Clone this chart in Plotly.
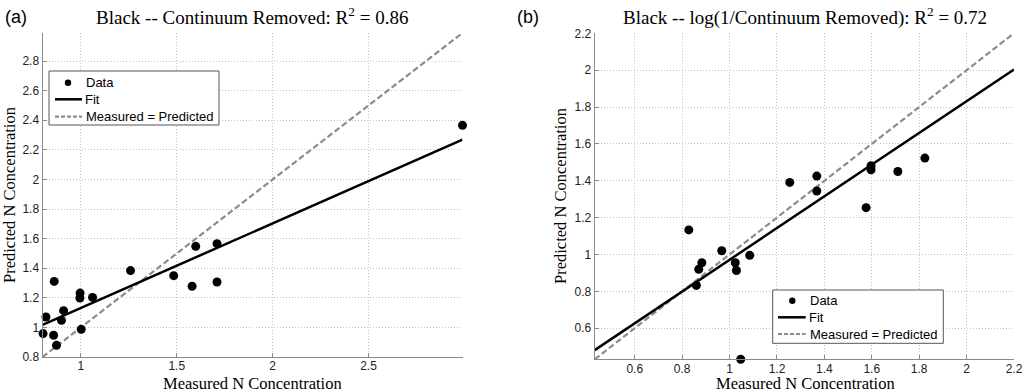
import plotly.graph_objects as go

# ---- Panel (a) data ----
a_measured = [0.803, 0.818, 0.858, 0.861, 0.873, 0.899, 0.910, 0.996, 0.995, 1.002,
              1.061, 1.259, 1.484, 1.580, 1.599, 1.710, 1.710, 2.990]
a_predicted = [0.958, 1.070, 0.947, 1.311, 0.879, 1.048, 1.113, 1.232, 1.199, 0.987,
               1.203, 1.384, 1.350, 1.278, 1.548, 1.566, 1.307, 2.366]
a_fit_x = [0.80, 2.99]
a_fit_y = [1.017, 2.269]
a_one_x = [0.80, 3.00]
a_one_y = [0.80, 3.00]
a_xticks = [1, 1.5, 2, 2.5]
a_xticklabels = ["1", "1.5", "2", "2.5"]
a_yticks = [0.8, 1.0, 1.2, 1.4, 1.6, 1.8, 2.0, 2.2, 2.4, 2.6, 2.8]
a_yticklabels = ["0.8", "1", "1.2", "1.4", "1.6", "1.8", "2", "2.2", "2.4", "2.6", "2.8"]

# ---- Panel (b) data ----
b_measured = [0.828, 0.860, 0.870, 0.883, 0.967, 1.024, 1.029, 1.085, 1.047,
              1.254, 1.368, 1.368, 1.576, 1.597, 1.597, 1.710, 1.824]
b_predicted = [1.133, 0.832, 0.919, 0.955, 1.020, 0.955, 0.913, 0.995, 0.431,
               1.391, 1.425, 1.344, 1.254, 1.481, 1.459, 1.450, 1.523]
b_fit_x = [0.431, 2.20]
b_fit_y = [0.481, 2.004]
b_one_x = [0.431, 2.20]
b_one_y = [0.431, 2.20]
b_ticks = [0.6, 0.8, 1.0, 1.2, 1.4, 1.6, 1.8, 2.0, 2.2]
b_ticklabels = ["0.6", "0.8", "1", "1.2", "1.4", "1.6", "1.8", "2", "2.2"]

legend_labels = ["Data", "Fit", "Measured = Predicted"]
titles = ["Black -- Continuum Removed: R<sup>2</sup> = 0.86",
          "Black -- log(1/Continuum Removed): R<sup>2</sup> = 0.72"]
panel_tags = ["(a)", "(b)"]
x_title = "Measured N Concentration"
y_title = "Predicted N Concentration"

W, H = 1024, 392
SERIF = "Liberation Serif, Times New Roman, serif"
SANS = "Liberation Sans, Arial, sans-serif"
DASH_GREY = "#8c8c8c"

fig = go.Figure()

def add_panel(mx, py, fx, fy, ox, oy, xa, ya):
    fig.add_trace(go.Scatter(x=ox, y=oy, mode="lines", name=legend_labels[2],
                             line=dict(color=DASH_GREY, width=2.2, dash="6px,3px"),
                             xaxis=xa, yaxis=ya, showlegend=False))
    fig.add_trace(go.Scatter(x=fx, y=fy, mode="lines", name=legend_labels[1],
                             line=dict(color="black", width=2.5),
                             xaxis=xa, yaxis=ya, showlegend=False))
    fig.add_trace(go.Scatter(x=mx, y=py, mode="markers", name=legend_labels[0],
                             marker=dict(color="black", size=9),
                             xaxis=xa, yaxis=ya, showlegend=False, cliponaxis=False))

add_panel(a_measured, a_predicted, a_fit_x, a_fit_y, a_one_x, a_one_y, "x", "y")
add_panel(b_measured, b_predicted, b_fit_x, b_fit_y, b_one_x, b_one_y, "x2", "y2")

axis_common = dict(showgrid=True, gridcolor="#c4c4c4", griddash="1px,2px", gridwidth=1,
                   showline=True, linecolor="#8a8a8a", linewidth=1,
                   ticks="inside", ticklen=4, tickcolor="#8a8a8a",
                   tickfont=dict(family=SANS, size=12, color="#222"),
                   zeroline=False, mirror=False, automargin=False)

fig.update_layout(
    width=W, height=H,
    margin=dict(l=0, r=0, t=0, b=0),
    paper_bgcolor="white", plot_bgcolor="white",
    showlegend=False,
    xaxis=dict(domain=[42.5 / W, 462.5 / W], range=[0.8, 2.99], tickvals=a_xticks,
               ticktext=a_xticklabels, anchor="y", ticklabelstandoff=-2, **axis_common),
    yaxis=dict(domain=[(H - 357) / H, (H - 33) / H], range=[0.8, 2.99], tickvals=a_yticks,
               ticktext=a_yticklabels, anchor="x", **axis_common),
    xaxis2=dict(domain=[594.7 / W, 1014 / W], range=[0.431, 2.2], tickvals=b_ticks,
                ticktext=b_ticklabels, anchor="y2", ticklabelstandoff=-2, **axis_common),
    yaxis2=dict(domain=[(H - 359.3) / H, (H - 33.3) / H], range=[0.431, 2.2], tickvals=b_ticks,
                ticktext=b_ticklabels, anchor="x2", **axis_common),
)

def px(x):
    return x / W

def py_(y):
    return (H - y) / H

ann = []
shapes = []

for tag, tx in zip(panel_tags, (3, 515)):
    ann.append(dict(text=tag, x=px(tx), y=py_(17), xref="paper", yref="paper",
                    xanchor="left", yanchor="middle", showarrow=False,
                    font=dict(family=SANS, size=18, color="black")))
for title, cx in zip(titles, (252, 805)):
    ann.append(dict(text=title, x=px(cx), y=py_(16), xref="paper", yref="paper",
                    xanchor="center", yanchor="middle", showarrow=False,
                    font=dict(family=SERIF, size=19, color="black")))
for cx in (252, 805):
    ann.append(dict(text=x_title, x=px(cx), y=py_(383.5), xref="paper", yref="paper",
                    xanchor="center", yanchor="middle", showarrow=False,
                    font=dict(family=SERIF, size=16.5, color="black")))
for cx, cy in ((9, 195), (560, 196)):
    ann.append(dict(text=y_title, x=px(cx), y=py_(cy), xref="paper", yref="paper",
                    xanchor="center", yanchor="middle", showarrow=False,
                    textangle=-90, font=dict(family=SERIF, size=16.5, color="black")))

# manual legends: (box left, box top, box right, box bottom, marker x, line x0, line x1, text x, row ys)
legend_boxes = [
    (49, 71, 219, 125, 68, 55, 82, 84, (82.7, 99.3, 116.7)),
    (772.7, 290, 943.3, 343.3, 792.3, 778, 805.7, 808, (300.7, 317.3, 334)),
]
for (bl, bt, br, bb, mx, lx0, lx1, tx, rows) in legend_boxes:
    shapes.append(dict(type="rect", xref="paper", yref="paper",
                       x0=px(bl), x1=px(br), y0=py_(bb), y1=py_(bt),
                       line=dict(color="#555", width=1), fillcolor="white", layer="above"))
    r = 3.2
    shapes.append(dict(type="circle", xref="paper", yref="paper",
                       x0=px(mx - r), x1=px(mx + r), y0=py_(rows[0] + r), y1=py_(rows[0] - r),
                       line=dict(color="black", width=0), fillcolor="black", layer="above"))
    shapes.append(dict(type="line", xref="paper", yref="paper",
                       x0=px(lx0), x1=px(lx1), y0=py_(rows[1]), y1=py_(rows[1]),
                       line=dict(color="black", width=2.5), layer="above"))
    shapes.append(dict(type="line", xref="paper", yref="paper",
                       x0=px(lx0), x1=px(lx1), y0=py_(rows[2]), y1=py_(rows[2]),
                       line=dict(color=DASH_GREY, width=2.2, dash="4px,2px"), layer="above"))
    for lab, ry in zip(legend_labels, rows):
        ann.append(dict(text=lab, x=px(tx if lab != "Fit" else lx1 + 1), y=py_(ry),
                        xref="paper", yref="paper", xanchor="left", yanchor="middle",
                        showarrow=False, font=dict(family=SANS, size=13, color="black")))

fig.update_layout(annotations=ann, shapes=shapes)

fig.write_html("out.html", config={"displayModeBar": False},
               post_script="document.body.style.margin='0';document.body.style.padding='0';")
